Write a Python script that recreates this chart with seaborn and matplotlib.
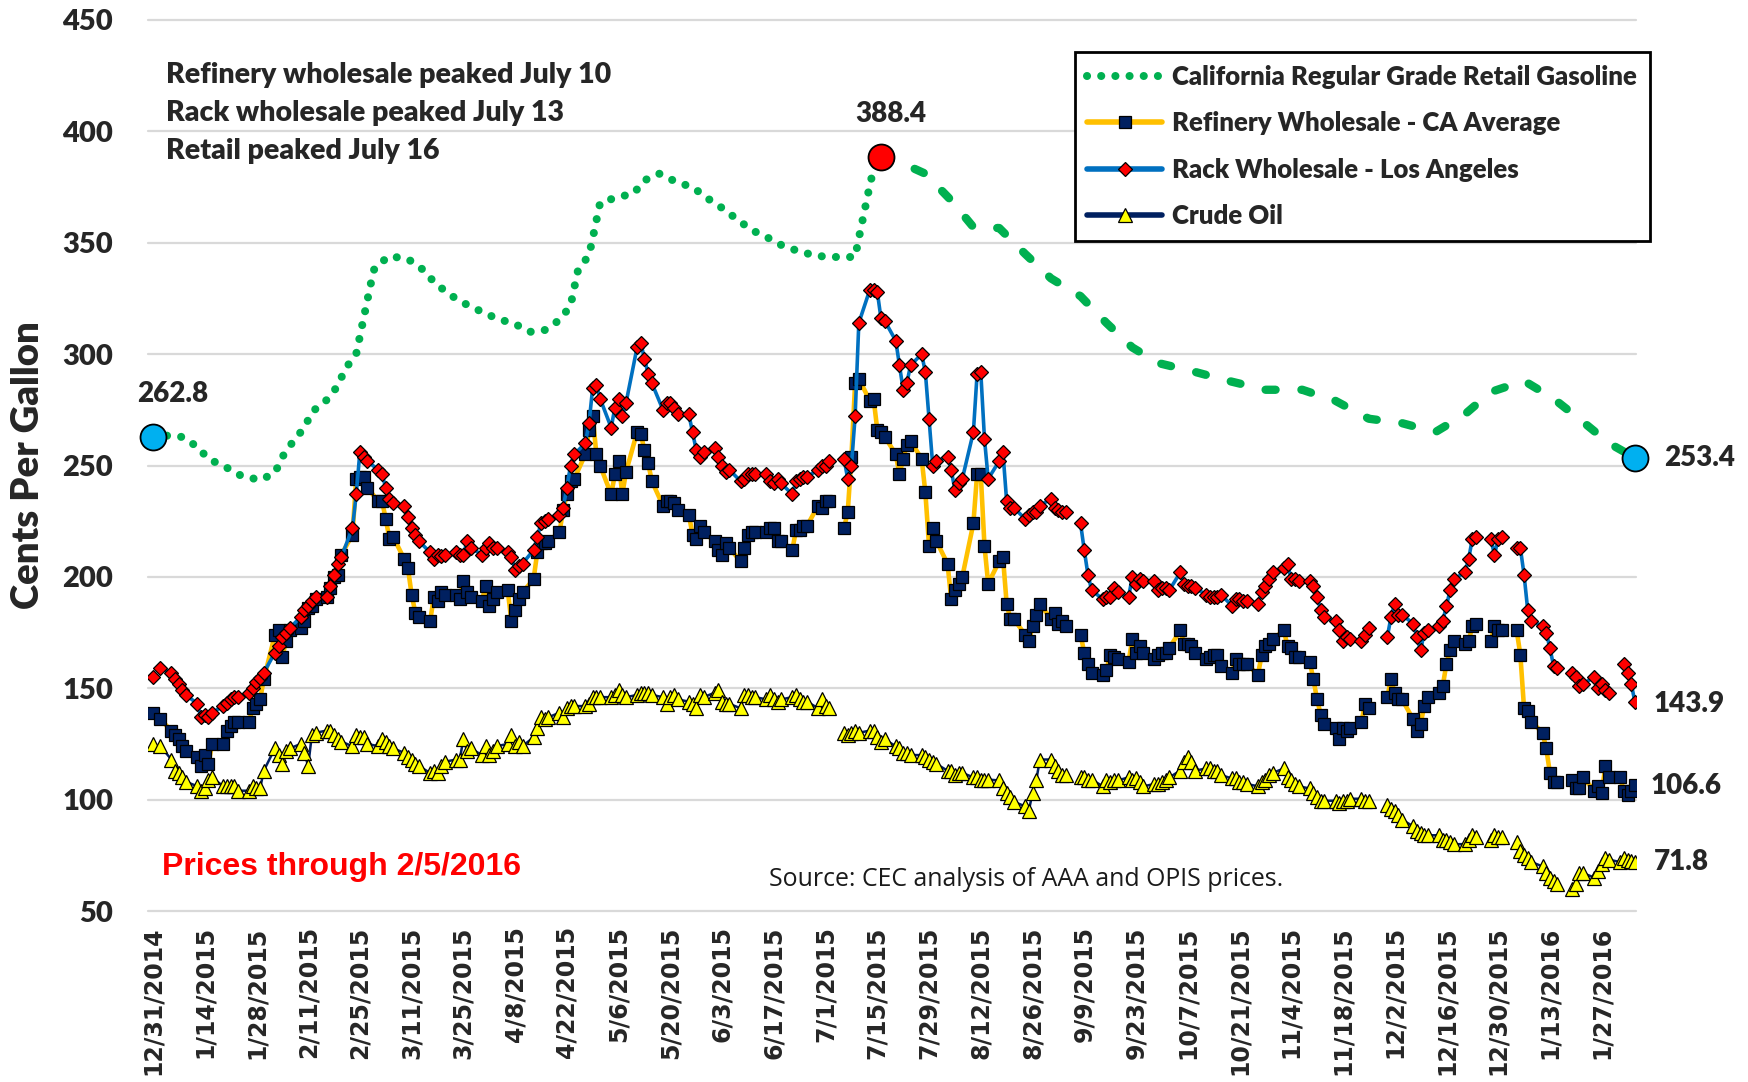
import numpy as np
import pandas as pd
import matplotlib
matplotlib.use("Agg")
import matplotlib.pyplot as plt
from matplotlib.lines import Line2D
import seaborn as sns

nan = np.nan

# ---------------- data (cents per gallon) ----------------
price_dates = pd.bdate_range("2014-12-31", "2016-02-05")  # business days

rack_cents = [
    155, nan, 159,
    157, 154, 152, 149, 147,
    143, 137, 138, 137, 139,
    142, 143.5, 145, 146, 146,
    148, 150, 153, 154.5, 157,
    166, 169, 173, 175, 177,
    182, 185, 187, 189, 191,
    191, 196, 201, 206, 209,
    222, 237, 256, 254, 252,
    248, 246, 240, 235, 233,
    232, 227, 222, 219, 216,
    211, 208, 210, 209.5, 210,
    211, 210, 210, 216, 213,
    210, 213, 215, 213, 213,
    211, 209, 203, 205, 206,
    212, 218, 224, 225, 226,
    228, 231, 240, 250, 255,
    260, 269, 285, 286, 280,
    267, 276, 280, 272, 278,
    303, 305, 298, 291, 287,
    275, 278, 278, 276, 273,
    273, 265, 257, 254, 256,
    258, 254, 250, 247, 248,
    243, 244, 246, 246, 246,
    246, 243, 242, 244, 242,
    237, 243, 244, 245, 245,
    248, 250, 250, 252, nan,
    253, 244, 250, 272, 314,
    329, 329, 328, 316, 315,
    306, 295, 284, 287, 295,
    300, 292, 271, 250, 252,
    254, 248, 239, 242, 244,
    265, 291, 292, 262, 244,
    252, 256, 234, 231, 231,
    226, 228, 229, 229, 232,
    235, 231, 230, 229, 229,
    nan, 224, 212, 201, 194,
    190, 191, 191, 195, 193,
    191, 200, 197, 199, 198,
    198, 194, 195, 195, 194,
    202, 197, 196, 196, 195,
    192, 191, 191, 191, 192,
    187, 190, 190, 189, 189,
    188, 193, 196, 199, 202,
    204, 206, 199, 199, 198,
    198, 196, 191, 185, 182,
    180, 176, 171, 173, 172,
    171, 174, 177, nan, nan,
    173, 182, 188, 183, 183,
    179, 173, 167, 175, 176,
    178, 180, 187, 194, 199,
    202, 208, 217, 218, nan,
    217, 210, 217, 218, nan,
    213, 213, 201, 185, 180,
    178, 175, 168, 160, 159,
    nan, 157, 155, 151, 152,
    155, 150, 152, 149, 148,
    nan, 161, 157, 152, 143.9,
]

refinery_cents = [
    139, nan, 136,
    131, 129, 127, 124, 122,
    119, 115, 120, 116, 125,
    125, 131, 133, 135, 135,
    135, 141, 143, 145, 154,
    174, 176, 164, 171, 176,
    177, 180, 186, 187, 190,
    191, 195, 200, 201, 210,
    219, 244, 245, 245, 240,
    234, 234, 226, 217, 218,
    208, 204, 192, 184, 182,
    180, 191, 189, 193, 192,
    192, 190, 198, 193, 191,
    189, 196, 187, 190, 193,
    194, 180, 185, 190, 193,
    199, 211, 215, 215, 216,
    220, 230, 237, 243, 244,
    255, 266, 272, 255, 250,
    237, 246, 252, 237, 247,
    265, 264, 257, 251, 243,
    232, 234, 234, 233, 230,
    228, 219, 217, 223, 220,
    216, 212, 210, 215, 213,
    207, 213, 219, 220, 220,
    220, 222, 222, 216, 216,
    212, 221, 221, 223, 223,
    232, 231, 234, 234, nan,
    222, 229, 254, 287, 289,
    279, 280, 266, 265, 263,
    255, 246, 253, 259, 261,
    253, 238, 214, 222, 216,
    206, 190, 194, 197, 200,
    224, 246, 246, 214, 197,
    207, 209, 188, 181, 181,
    174, 171, 178, 183, 188,
    181, 184, 179, 180, 178,
    nan, 174, 166, 161, 157,
    156, 158, 165, 164, 163,
    162, 172, 166, 169, 166,
    163, 165, 166, 166, 168,
    176, 170, 170, 169, 166,
    163, 164, 165, 165, 160,
    157, 163, 161, 161, 161,
    156, 165, 169, 170, 172,
    176, 169, 168, 164, 164,
    162, 154, 145, 138, 134,
    132, 127, 132, 131, 132,
    135, 143, 141, nan, nan,
    146, 154, 148, 145, 145,
    136, 131, 134, 142, 146,
    148, 151, 161, 167, 171,
    170, 171, 178, 179, nan,
    171, 178, 176, 176, nan,
    176, 165, 141, 140, 135,
    130, 123, 112, 108, 108,
    nan, 109, 105, 105, 110,
    104, 106, 103, 115, 110,
    110, 104, 102, 104, 106.6,
]

crude_cents = [
    125, nan, 124,
    118, 113, 112, 110, 108,
    106, 104, 105, 109, 110,
    106, 106, 106, 106, 104,
    104, 106, 105, 105, 113,
    123, 120, 116, 122, 123,
    125, 121, 115, 129, 130,
    131, 131, 129, 127, 126,
    124, 129, 128, 128, 125,
    124, 127, 126, 124, 123,
    121, 119, 118, 116, 115,
    112, 113, 112, 115, 117,
    118, 118, 127, 122, 123,
    120, 124, 120, 122, 124,
    125, 129, 124, 126, 124,
    128, 132, 137, 136, 137,
    139, 137, 141, 142, 142,
    142, 143, 146, 146, 146,
    146, 147, 149, 147, 146,
    147, 148, 148, 148, 147,
    146, 143, 146, 147, 145,
    144, 143, 141, 147, 146,
    148, 149, 144, 143, 143,
    141, 147, 147, 146, 146,
    145, 147, 145, 144, 145,
    146, 147, 145, 144, 144,
    141, 145, 142, 141, nan,
    130, 129, 130, 131, 130,
    131, 131, 128, 126, 127,
    124, 123, 121, 121, 120,
    120, 119, 118, 117, 116,
    113, 113, 111, 112, 112,
    110, 110, 109, 108.6, 109,
    108.6, 105, 103, 101, 99,
    97, 95, 103, 108.6, 118,
    118, 115, 113, 111, 111,
    nan, 110, 110, 108.6, 109,
    106, 108.6, 108, 108.6, 108.6,
    110, 108.6, 109.5, 108, 106,
    107, 107, 108, 108.6, 110,
    113, 117, 119, 117, 113,
    114, 114, 113, 113, 111,
    109.5, 109.5, 108, 107.7, 107,
    106, 107.7, 109, 111, 112,
    114, 110, 109, 107, 106,
    105, 103, 101, 99.5, 99.5,
    99.5, 98.6, 99.5, 99.5, 100.4,
    100.4, 99.5, 99.5, nan, nan,
    97.7, 96, 95, 93, 91,
    88, 86, 85, 84, 84,
    84, 82, 82, 81, 80,
    80, 82, 84, 83, nan,
    82, 84, 83, 83, nan,
    81, 77, 75, 73.7, 72,
    70, 67, 65, 63.6, 62,
    nan, 60, 62, 67, 67,
    65, 68, 71, 73.7, 73,
    72, 74, 73, 72.5, 71.8,
]

retail_dates = [
    "2014-12-31", "2015-01-03", "2015-01-08", "2015-01-12", "2015-01-15",
    "2015-01-20", "2015-01-24", "2015-01-29", "2015-02-02", "2015-02-04",
    "2015-02-07", "2015-02-10", "2015-02-12", "2015-02-16", "2015-02-19",
    "2015-02-21", "2015-02-24", "2015-02-25", "2015-02-26", "2015-02-27",
    "2015-02-28", "2015-03-01", "2015-03-05", "2015-03-10", "2015-03-14",
    "2015-03-17", "2015-03-21", "2015-03-25", "2015-03-29", "2015-04-03",
    "2015-04-08", "2015-04-12", "2015-04-16", "2015-04-20", "2015-04-23",
    "2015-04-24", "2015-04-25", "2015-04-28", "2015-04-29", "2015-04-30",
    "2015-05-01", "2015-05-06", "2015-05-10", "2015-05-13", "2015-05-17",
    "2015-05-22", "2015-05-26", "2015-05-30", "2015-06-03", "2015-06-07",
    "2015-06-11", "2015-06-15", "2015-06-19", "2015-06-24", "2015-06-29",
    "2015-07-04", "2015-07-09", "2015-07-10", "2015-07-11", "2015-07-12",
    "2015-07-13", "2015-07-14", "2015-07-15", "2015-07-16",
    "2015-07-20", "2015-07-24", "2015-07-28", "2015-08-04", "2015-08-10",
    "2015-08-17", "2015-08-24", "2015-08-31", "2015-09-08", "2015-09-15",
    "2015-09-22", "2015-09-29", "2015-10-09", "2015-10-18", "2015-10-28",
    "2015-11-07", "2015-11-16", "2015-11-25", "2015-12-04", "2015-12-13",
    "2015-12-21", "2015-12-28", "2016-01-06", "2016-01-14", "2016-01-22",
    "2016-01-29", "2016-02-05",
]
retail_cents = [
    262.8, 263.5, 262.8, 258.4, 253,
    249, 245.3, 243.5, 246.6, 253.8,
    261, 267, 274, 279.4, 285.7,
    293.3, 300, 308, 316, 324,
    332, 339, 344, 342.7, 338,
    332.5, 327, 323, 319.8, 316,
    313.5, 310, 310.8, 315.3, 321.7,
    329.8, 337.5, 344.5, 352, 360,
    368, 370.6, 372, 378, 381,
    377, 375, 370, 365.6, 360.6,
    355.7, 352.6, 349, 346, 344,
    343.6, 343.6, 352, 360, 368,
    376, 383, 387, 388.4,
    387, 384, 381, 369, 357,
    356.6, 345, 334, 326, 314,
    303, 296, 292, 288, 284,
    284, 279, 271, 269, 265,
    273, 283, 288, 280, 269.5,
    260, 253.4,
]

tick_dates = pd.date_range("2014-12-31", "2016-01-27", freq="14D")
tick_labels = [f"{d.month}/{d.day}/{d.year}" for d in tick_dates]

series_names = ["California Regular Grade Retail Gasoline",
                "Refinery Wholesale - CA Average",
                "Rack Wholesale - Los Angeles",
                "Crude Oil"]

# ---------------- style ----------------
sns.set_theme(style="white")
plt.rcParams["font.family"] = ["Lato", "DejaVu Sans"]

GREEN = "#00B050"
GOLD = "#FFC000"
BLUE = "#0070C0"
NAVY = "#002060"
RED = "#FF0000"
YELLOW = "#FFFF00"
CYAN = "#00B0F0"
HEAVY = "heavy"

W, H = 1749, 1082
fig = plt.figure(figsize=(W / 100, H / 100), dpi=100)
ax = fig.add_axes([148 / W, 1 - 911 / H, (1636 - 148) / W, (911 - 20) / H])


def fx(px):
    return px / W


def fy(py):
    return 1 - py / H


df = pd.DataFrame({"date": price_dates, "rack": rack_cents,
                   "refinery": refinery_cents, "crude": crude_cents})
rt = pd.DataFrame({"date": pd.to_datetime(retail_dates), "retail": retail_cents})
peak_i = int(rt["retail"].idxmax())


def segments(col):
    d = df[["date", col]].copy()
    d["seg"] = d[col].isna().cumsum()
    return d.dropna()


# retail: dotted up to the peak, short dashes after it
sns.lineplot(data=rt.iloc[:peak_i + 1], x="date", y="retail", ax=ax,
             color=GREEN, lw=5.8, linestyle=(0, (0.01, 1.75)),
             dash_capstyle="round", zorder=2, legend=False)
sns.lineplot(data=rt.iloc[peak_i:], x="date", y="retail", ax=ax,
             color=GREEN, lw=6.0, linestyle=(0, (1.2, 3.1)),
             dash_capstyle="round", zorder=2, legend=False)

sns.lineplot(data=segments("refinery"), x="date", y="refinery", units="seg",
             estimator=None, ax=ax, color=GOLD, lw=3.3, marker="s", ms=8.8,
             mfc=NAVY, mec="black", mew=0.9, zorder=3, legend=False)
sns.lineplot(data=segments("rack"), x="date", y="rack", units="seg",
             estimator=None, ax=ax, color=BLUE, lw=2.6, marker="D", ms=7.4,
             mfc=RED, mec="black", mew=0.9, zorder=4, legend=False)
sns.lineplot(data=segments("crude"), x="date", y="crude", units="seg",
             estimator=None, ax=ax, color=NAVY, lw=1.8, marker="^", ms=10.5,
             mfc=YELLOW, mec="black", mew=0.9, zorder=5, legend=False)

# highlighted retail points
for i, c in [(0, CYAN), (len(rt) - 1, CYAN), (peak_i, RED)]:
    ax.plot([rt["date"].iloc[i]], [rt["retail"].iloc[i]], marker="o", ms=18.7,
            mfc=c, mec="black", mew=1.3, ls="none", zorder=7, clip_on=False)

# axes
ax.set_xlim(pd.Timestamp("2014-12-31") - pd.Timedelta(hours=32),
            pd.Timestamp("2016-02-05") + pd.Timedelta(hours=7))
ax.set_ylim(50, 450)
ax.set_yticks(range(50, 451, 50))
ax.set_xticks(tick_dates)
ax.set_xticklabels(tick_labels, rotation=90, fontfamily="DejaVu Sans",
                   fontweight="bold", fontsize=17)
for lab in ax.get_yticklabels():
    lab.set_fontweight(HEAVY)
    lab.set_fontsize(21)
ax.tick_params(axis="x", length=0, pad=11)
ax.tick_params(axis="y", length=0, pad=25)
ax.set_xlabel("")
ax.set_ylabel("")
ax.yaxis.grid(True, color="#D9D9D9", lw=1.6)
ax.xaxis.grid(False)
for gl in ax.get_ygridlines():
    gl.set_clip_on(False)
for s in ax.spines.values():
    s.set_visible(False)

fig.text(fx(28), fy(465), "Cents Per Gallon", rotation=90, ha="center",
         va="center", fontsize=27.5, fontweight=HEAVY)

# annotations
for txt, y in [("Refinery wholesale peaked July 10", 75),
               ("Rack wholesale peaked July 13", 113),
               ("Retail peaked July 16", 151)]:
    fig.text(fx(166), fy(y), txt, ha="left", va="center", fontsize=20.5,
             fontweight=HEAVY)

lab_kw = dict(fontsize=20, fontweight=HEAVY, va="center")
fig.text(fx(891), fy(114), f"{rt['retail'].iloc[peak_i]:.1f}", ha="center", **lab_kw)
fig.text(fx(173), fy(394), f"{rt['retail'].iloc[0]:.1f}", ha="center", **lab_kw)
fig.text(fx(1664), fy(458), f"{rt['retail'].iloc[-1]:.1f}", ha="left", **lab_kw)
fig.text(fx(1654), fy(704), f"{rack_cents[-1]:.1f}", ha="left", **lab_kw)
fig.text(fx(1651), fy(786), f"{refinery_cents[-1]:.1f}", ha="left", **lab_kw)
fig.text(fx(1654), fy(862), f"{crude_cents[-1]:.1f}", ha="left", **lab_kw)

fig.text(fx(162), fy(867), "Prices through 2/5/2016", color=RED,
         fontfamily="Liberation Sans", fontweight="bold", fontsize=23,
         ha="left", va="center")
fig.text(fx(769), fy(880), "Source: CEC analysis of AAA and OPIS prices.",
         fontfamily="Open Sans", fontsize=17.9, color="#1A1A1A",
         ha="left", va="center")

# legend
handles = [
    Line2D([], [], color=GREEN, lw=5.8, linestyle=(0, (0.01, 1.75)),
           dash_capstyle="round"),
    Line2D([], [], color=GOLD, lw=4, marker="s", ms=8.8, mfc=NAVY, mec="black", mew=0.9),
    Line2D([], [], color=BLUE, lw=4, marker="D", ms=7.4, mfc=RED, mec="black", mew=0.9),
    Line2D([], [], color=NAVY, lw=4, marker="^", ms=10.5, mfc=YELLOW, mec="black", mew=0.9),
]
leg = fig.legend(handles, series_names, loc="upper right",
                 bbox_to_anchor=(fx(1650), fy(52)), bbox_transform=fig.transFigure,
                 frameon=True, fancybox=False, edgecolor="black", framealpha=1,
                 prop={"family": ["Lato", "DejaVu Sans"], "weight": HEAVY, "size": 18.5},
                 handlelength=2.9, handletextpad=0.4, labelspacing=0.87,
                 borderpad=0.5, borderaxespad=0, numpoints=1)
leg.get_frame().set_linewidth(2)

fig.savefig("out.png", dpi=100)
